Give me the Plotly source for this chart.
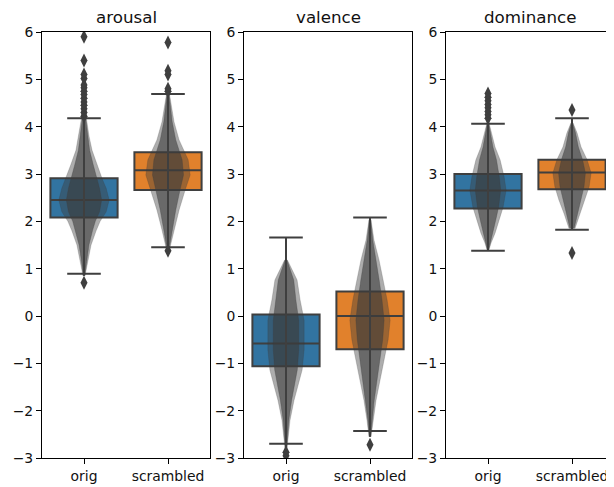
import plotly.graph_objects as go

# ---------------- data ----------------
panels = ["arousal", "valence", "dominance"]
groups = ["orig", "scrambled"]

# box statistics per panel: [orig, scrambled]
q1_vals = {"arousal": [2.08, 2.66], "valence": [-1.06, -0.70], "dominance": [2.27, 2.68]}
median_vals = {"arousal": [2.45, 3.08], "valence": [-0.58, 0.00], "dominance": [2.65, 3.03]}
q3_vals = {"arousal": [2.91, 3.46], "valence": [0.03, 0.52], "dominance": [3.00, 3.30]}
lower_whisker = {"arousal": [0.89, 1.45], "valence": [-2.70, -2.43], "dominance": [1.38, 1.82]}
upper_whisker = {"arousal": [4.18, 4.69], "valence": [1.66, 2.08], "dominance": [4.06, 4.18]}

# outliers (fliers)
outliers = {
    "arousal": [
        [0.70, 4.22, 4.30, 4.38, 4.45, 4.52, 4.60, 4.68, 4.75, 4.82, 4.88, 5.02, 5.10, 5.40, 5.90],
        [1.38, 4.75, 4.80, 5.10, 5.18, 5.78],
    ],
    "valence": [
        [-2.88, -2.95],
        [-2.72],
    ],
    "dominance": [
        [4.18, 4.25, 4.32, 4.40, 4.47, 4.55, 4.62, 4.70],
        [4.35, 1.33],
    ],
}

# swarm density profile: value levels and relative half-width (0..1)
swarm_levels = {
    "arousal": [
        [0.85, 1.2, 1.5, 1.8, 2.0, 2.2, 2.45, 2.7, 2.9, 3.2, 3.5, 3.8, 4.1, 4.3],
        [1.45, 1.82, 2.24, 2.66, 2.98, 3.30, 3.72, 4.10, 4.56, 4.75],
    ],
    "valence": [
        [-2.80, -2.62, -2.20, -1.78, -1.46, -1.14, -0.72, -0.40, -0.09, 0.34, 0.76, 1.18],
        [-2.55, -2.20, -1.78, -1.35, -0.93, -0.50, -0.09, 0.34, 0.76, 1.18, 1.60, 2.03],
    ],
    "dominance": [
        [1.40, 1.54, 1.75, 2.03, 2.30, 2.66, 2.94, 3.30, 3.57, 4.08, 4.20],
        [1.85, 2.17, 2.45, 2.73, 3.02, 3.30, 3.57, 3.87, 4.08],
    ],
}
swarm_density = {
    "arousal": [
        [0.04, 0.16, 0.28, 0.48, 0.64, 0.88, 1.00, 0.88, 0.72, 0.52, 0.32, 0.20, 0.12, 0.06],
        [0.08, 0.24, 0.44, 0.68, 0.88, 0.80, 0.44, 0.24, 0.10, 0.04],
    ],
    "valence": [
        [0.04, 0.08, 0.16, 0.32, 0.48, 0.64, 0.72, 0.72, 0.72, 0.56, 0.44, 0.06],
        [0.04, 0.12, 0.24, 0.40, 0.56, 0.72, 0.80, 0.68, 0.52, 0.36, 0.16, 0.04],
    ],
    "dominance": [
        [0.04, 0.12, 0.28, 0.44, 0.60, 0.72, 0.64, 0.48, 0.28, 0.04, 0.02],
        [0.12, 0.32, 0.52, 0.68, 0.76, 0.60, 0.36, 0.20, 0.04],
    ],
}

tick_vals = [-3, -2, -1, 0, 1, 2, 3, 4, 5, 6]

# ---------------- styling ----------------
W, H = 614, 487
PAGE_OFFSET = 8  # default body margin of the html page
box_colors = ["#3274a1", "#e1812c"]
edge = "#3f3f3f"
swarm_max_halfwidth = 0.30  # in category units
font_family = "DejaVu Sans"

panel_px = [(42, 210), (244, 412), (446, 614)]   # page pixels
y_top_px, y_bot_px = 32, 458                       # page pixels
title_y_px = 17


def fx(px):
    return (px - PAGE_OFFSET) / W


def fy(py):
    return 1 - (py - PAGE_OFFSET) / H


fig = go.Figure()

for p_i, panel in enumerate(panels):
    xa = "x" if p_i == 0 else f"x{p_i + 1}"
    ya = "y" if p_i == 0 else f"y{p_i + 1}"
    for g_i, grp in enumerate(groups):
        fig.add_trace(go.Box(
            x=[g_i],
            q1=[q1_vals[panel][g_i]],
            median=[median_vals[panel][g_i]],
            q3=[q3_vals[panel][g_i]],
            lowerfence=[lower_whisker[panel][g_i]],
            upperfence=[upper_whisker[panel][g_i]],
            width=0.8,
            whiskerwidth=0.5,
            fillcolor=box_colors[g_i],
            line=dict(color=edge, width=2),
            boxpoints=False,
            xaxis=xa, yaxis=ya,
            showlegend=False, hoverinfo="skip",
        ))
        # swarm approximation: sparse outer + dense inner envelope
        lv = swarm_levels[panel][g_i]
        dn = swarm_density[panel][g_i]
        for scale, alpha in [(1.0, 0.42), (0.7, 0.6)]:
            xs = [g_i + d * swarm_max_halfwidth * scale for d in dn] + \
                 [g_i - d * swarm_max_halfwidth * scale for d in dn[::-1]]
            ys = list(lv) + list(lv[::-1])
            fig.add_trace(go.Scatter(
                x=xs, y=ys, mode="lines", fill="toself",
                fillcolor=f"rgba(60,60,60,{alpha})",
                line=dict(width=0.5, color=f"rgba(60,60,60,{alpha})"),
                xaxis=xa, yaxis=ya, showlegend=False, hoverinfo="skip",
            ))
        # dense centre line of the swarm
        fig.add_trace(go.Scatter(
            x=[g_i, g_i], y=[lv[0], lv[-1]], mode="lines",
            line=dict(color=edge, width=2),
            xaxis=xa, yaxis=ya, showlegend=False, hoverinfo="skip",
        ))
        ov = outliers[panel][g_i]
        fig.add_trace(go.Scatter(
            x=[g_i] * len(ov), y=ov, mode="markers",
            marker=dict(symbol="diamond-tall", size=10, color=edge),
            xaxis=xa, yaxis=ya, showlegend=False, hoverinfo="skip",
        ))

axis_common = dict(showline=True, linecolor="#000000", linewidth=1, mirror=True,
                   ticks="outside", ticklen=5, tickwidth=1, tickcolor="#000000",
                   showgrid=False, zeroline=False, automargin=False,
                   tickfont=dict(family=font_family, size=13.9, color="#111111"))

layout = dict(width=W, height=H, margin=dict(l=0, r=0, t=0, b=0, autoexpand=False),
              paper_bgcolor="white", plot_bgcolor="white", annotations=[])
for p_i, panel in enumerate(panels):
    sfx = "" if p_i == 0 else str(p_i + 1)
    x0, x1 = panel_px[p_i]
    layout[f"xaxis{sfx}"] = dict(domain=[fx(x0), fx(x1)], range=[-0.5, 1.5],
                                 tickvals=[0, 1], ticktext=groups,
                                 anchor=f"y{sfx}", **axis_common)
    layout[f"yaxis{sfx}"] = dict(domain=[fy(y_bot_px), fy(y_top_px)], range=[-3, 6],
                                 tickvals=tick_vals,
                                 ticktext=[str(v).replace("-", "\u2212") for v in tick_vals],
                                 anchor=f"x{sfx}", **axis_common)
    layout["annotations"].append(dict(
        text=panel, x=fx((x0 + x1) / 2), y=fy(title_y_px), xref="paper", yref="paper",
        showarrow=False, xanchor="center", yanchor="middle", borderpad=0,
        font=dict(family=font_family, size=16.7, color="#111111")))

fig.update_layout(**layout)
fig.write_html("out.html")
